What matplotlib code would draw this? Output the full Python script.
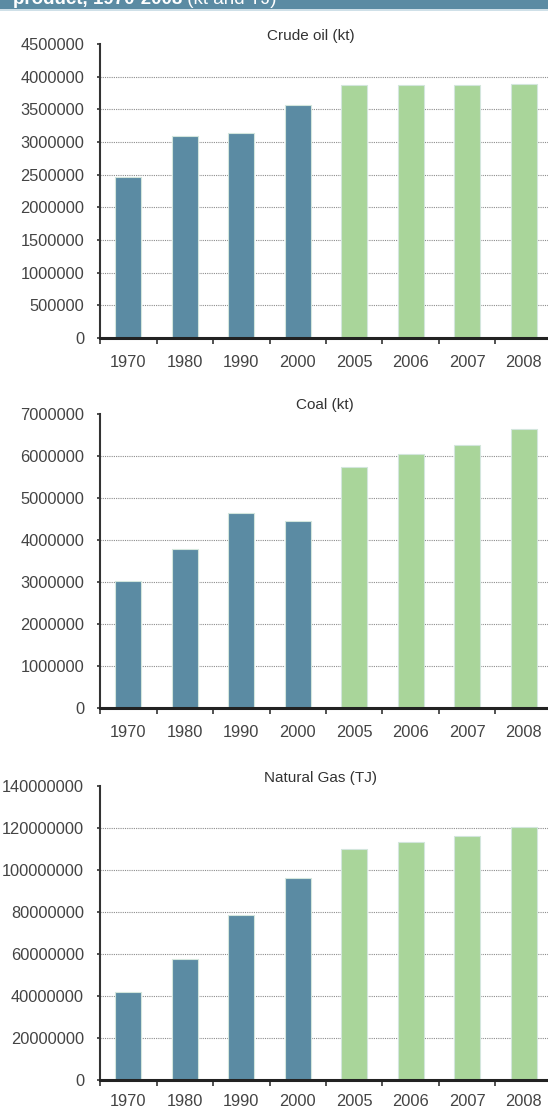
"""
Primary energy production by product, 1970-2008
Three stacked bar panels: crude oil, coal, natural gas
"""

import matplotlib.pyplot as plt
from matplotlib.patches import Rectangle

# Data
YEARS = ['1970', '1980', '1990', '2000', '2005', '2006', '2007', '2008']
CRUDE_OIL = [2470000, 3085000, 3137000, 3560000, 3867000, 3877000, 3867000, 3893000]
COAL = [3040000, 3800000, 4650000, 4460000, 5750000, 6050000, 6270000, 6660000]
NATURAL_GAS = [42000000, 57700000, 78800000, 96400000, 110000000, 113400000, 116100000, 120500000]

TITLES = ['Crude oil (kt)', 'Coal (kt)', 'Natural Gas (TJ)']
HEADER = 'product, 1970-2008'
HEADER_UNITS = ' (kt and TJ)'

# Style
W, H = 548, 1109
DPI = 100
BLUE = '#5b8ba3'
GREEN = '#a9d59a'
EDGE = '#d3e6dd'
TEXT = '#444444'
FONT = 'Liberation Sans'
OUTPUT_FILE = 'out.png'


def px(x, y):
    """pixel coords (top-left origin) -> figure fraction"""
    return x / W, 1 - y / H


def draw_panel(fig, rect, values, ymax, step, title, title_xy, xpad=12):
    ax = fig.add_axes(rect)
    n = len(values)
    colors = [BLUE] * 4 + [GREEN] * (n - 4)
    ax.bar(range(n), values, width=0.46, color=colors, edgecolor=EDGE,
           linewidth=0.8, zorder=3)

    ax.set_xlim(-0.5, n - 0.5)
    ax.set_ylim(0, ymax)

    ticks = list(range(0, int(ymax) + 1, int(step)))
    ax.set_yticks(ticks)
    ax.set_yticklabels([str(t) for t in ticks], fontsize=11.8, color=TEXT,
                       family=FONT)
    for t in ticks[1:-1]:
        ax.axhline(t, color='#8c8c8c', linewidth=0.8,
                   linestyle=(0, (1, 1)), zorder=1)

    ax.set_xticks(range(n))
    ax.set_xticklabels(YEARS, fontsize=11.8, color=TEXT, family=FONT)
    ax.set_xticks([i - 0.5 for i in range(n + 1)], minor=True)
    ax.tick_params(axis='x', which='major', length=0, pad=xpad)
    ax.tick_params(axis='x', which='minor', length=4, width=1.2,
                   color='#333333', direction='out')
    ax.tick_params(axis='y', length=2.5, width=1.2, color='#333333', pad=9)

    for side in ['top', 'right']:
        ax.spines[side].set_visible(False)
    ax.spines['left'].set_linewidth(1.5)
    ax.spines['left'].set_color('#333333')
    ax.spines['bottom'].set_linewidth(2.2)
    ax.spines['bottom'].set_color('#222222')
    ax.spines['bottom'].set_zorder(4)

    tx, ty = px(*title_xy)
    fig.text(tx, ty, title, ha='center', va='center', fontsize=11,
             color='#333333', family=FONT)
    return ax


def create_chart():
    fig = plt.figure(figsize=(W / DPI, H / DPI), dpi=DPI)
    fig.patch.set_facecolor('white')

    # header band (cut off at the top)
    fig.patches.append(Rectangle((0, 1 - 9 / H), 1, 9 / H,
                                 transform=fig.transFigure,
                                 facecolor=BLUE, edgecolor='none'))
    fig.patches.append(Rectangle((0, 1 - 10.5 / H), 1, 1.5 / H,
                                 transform=fig.transFigure,
                                 facecolor='#cfe0e8', edgecolor='none'))
    hx, hy = px(13, 4)
    head = fig.text(hx, hy, HEADER, ha='left', va='baseline', fontsize=13.5,
                    fontweight='bold', color='white', family=FONT)
    fig.canvas.draw()
    bb = head.get_window_extent()
    fig.text(bb.x1 / W, hy, HEADER_UNITS, ha='left', va='baseline',
             fontsize=13.5, color='white', family=FONT)

    left = 100 / W
    width = 452 / W
    height = 294 / H

    draw_panel(fig, [left, 1 - 338 / H, width, height], CRUDE_OIL,
               4500000, 500000, TITLES[0], (311, 36))
    draw_panel(fig, [left, 1 - 708.3 / H, width, height], COAL,
               7000000, 1000000, TITLES[1], (325, 405))
    draw_panel(fig, [left, 1 - 1080 / H, width, height], NATURAL_GAS,
               140000000, 20000000, TITLES[2], (321, 778), xpad=10)

    fig.savefig(OUTPUT_FILE, dpi=DPI, facecolor='white')


if __name__ == "__main__":
    create_chart()
